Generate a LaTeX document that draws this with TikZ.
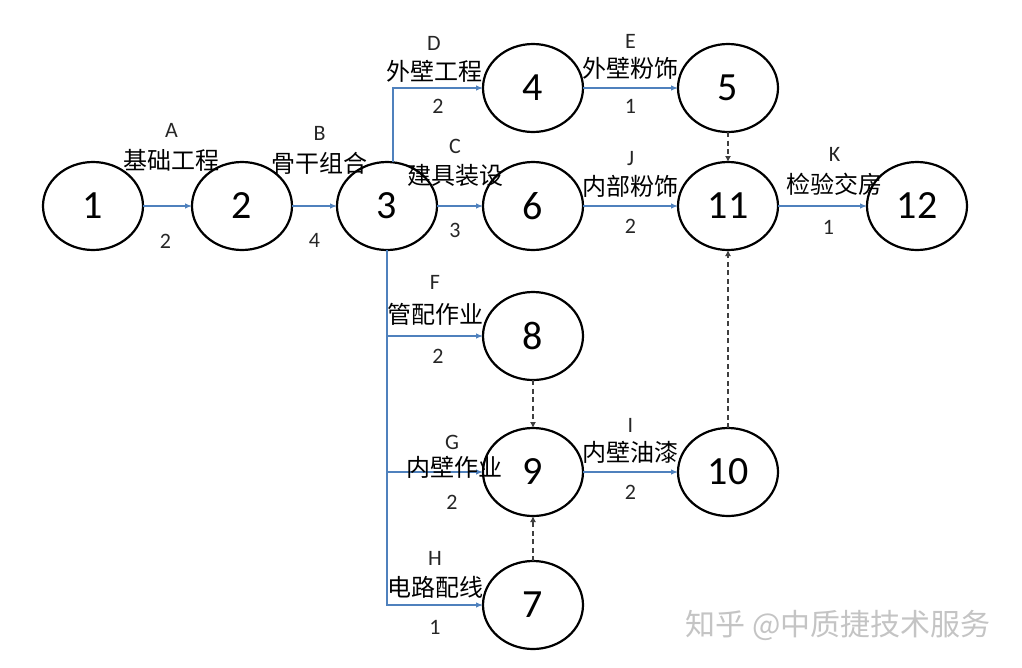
\documentclass[tikz,border=0pt]{standalone}
\usepackage{fontspec}
\setmainfont{Carlito}
\newfontfamily\cjk{Noto Sans CJK SC}
\usepackage{tikz}
\usetikzlibrary{arrows.meta,positioning,shapes.geometric}
\definecolor{flowblue}{HTML}{4F81BD}
\definecolor{dummyline}{HTML}{3F3F3F}
\definecolor{wmgray}{HTML}{C4C4C4}
\tikzset{
  event/.style={
    draw=black, line width=2.2pt, ellipse,
    minimum width=100pt, minimum height=88pt,
    inner sep=0pt, outer sep=0pt,
    font=\fontsize{40}{42}\selectfont,
  },
  arrow/.style={-{Latex[length=7pt,width=5.5pt]}, line width=1.2pt, color=flowblue},
  dummy/.style={-{Latex[length=6pt,width=6pt]}, line width=1.4pt, color=dummyline, dash pattern=on 5pt off 3.5pt},
  code/.style={pos=.5, font=\fontsize{22}{24}\selectfont, text=black!85, yshift=#1},
  code/.default=47pt,
  work/.style={pos=.5, font=\cjk\fontsize{24}{26}\selectfont, text=black, yshift=#1},
  work/.default=20pt,
  dur/.style={pos=.5, font=\fontsize{22}{24}\selectfont, text=black!85, yshift=#1},
  dur/.default=-20pt,
  wmark/.style={font=\cjk\fontsize{30}{32}\selectfont, text=wmgray},
}
\begin{document}
\begin{tikzpicture}[x=1pt, y=1pt]
  \useasboundingbox (0,0) rectangle (1022,-667);

  % events
  \node[event] (n1) at (93,-206) {1};
  \node[event, right=49pt of n1] (n2) {2};
  \node[event, right=45pt of n2] (n3) {3};
  \node[event, right=46pt of n3] (n6) {6};
  \node[event, right=95pt of n6] (n11) {11};
  \node[event, right=89pt of n11] (n12) {12};
  \node[event, above=30pt of n6] (n4) {4};
  \node[event, right=95pt of n4] (n5) {5};
  \node[event, below=42pt of n6] (n8) {8};
  \node[event, below=48pt of n8] (n9) {9};
  \node[event, right=95pt of n9] (n10) {10};
  \node[event, below=45pt of n9] (n7) {7};

  % activities
  \draw[arrow] (n1) -- node[code=76pt, xshift=4pt]{A} node[work=46pt, xshift=4pt]{基础工程} node[dur=-35pt, xshift=-2pt]{2} (n2);
  \draw[arrow] (n2) -- node[code=73pt, xshift=5pt]{B} node[work=43pt, xshift=5pt]{骨干组合} node[dur=-34pt]{4} (n3);
  \draw[arrow] (n3) -- node[code=60pt, xshift=-5pt]{C} node[work=31pt, xshift=-5pt]{建具装设} node[dur=-24pt, xshift=-5pt]{3} (n6);
  \draw[arrow] ([xshift=6pt]n3.north) |- node[code=45pt, pos=.75, xshift=-4pt]{D} node[work=17pt, pos=.75, xshift=-4pt]{外壁工程} node[dur=-18pt, pos=.75]{2} (n4);
  \draw[arrow] (n4) -- node[code]{E} node[work]{外壁粉饰} node[dur=-18pt]{1} (n5);
  \draw[arrow] (n6) -- node[code]{J} node[work]{内部粉饰} node[dur]{2} (n11);
  \draw[arrow] (n11) -- node[code=52pt, xshift=12pt]{K} node[work=22pt, xshift=12pt]{检验交房} node[dur=-21pt, xshift=6pt]{1} (n12);
  \draw[arrow] (n3.south) |- node[code=54pt, pos=.75]{F} node[work=22pt, pos=.75]{管配作业} node[dur, pos=.75, xshift=3pt]{2} (n8);
  \draw[arrow] (n3.south) |- node[code=30pt, pos=.75, xshift=17pt]{G} node[work=5pt, pos=.75, xshift=19pt]{内壁作业} node[dur=-30pt, pos=.75, xshift=17pt]{2} (n9);
  \draw[arrow] (n3.south) |- node[code, pos=.75]{H} node[work=18pt, pos=.75]{电路配线} node[dur=-22pt, pos=.75]{1} (n7);
  \draw[arrow] (n9) -- node[code]{I} node[work]{内壁油漆} node[dur]{2} (n10);

  % dummies
  \draw[dummy] (n5) -- (n11);
  \draw[dummy] (n8) -- (n9);
  \draw[dummy] (n7) -- (n9);
  \draw[dummy] (n10) -- (n11);

  \node[wmark] (zhihu) at (838,-625) {知乎 @中质捷技术服务};
\end{tikzpicture}
\end{document}
